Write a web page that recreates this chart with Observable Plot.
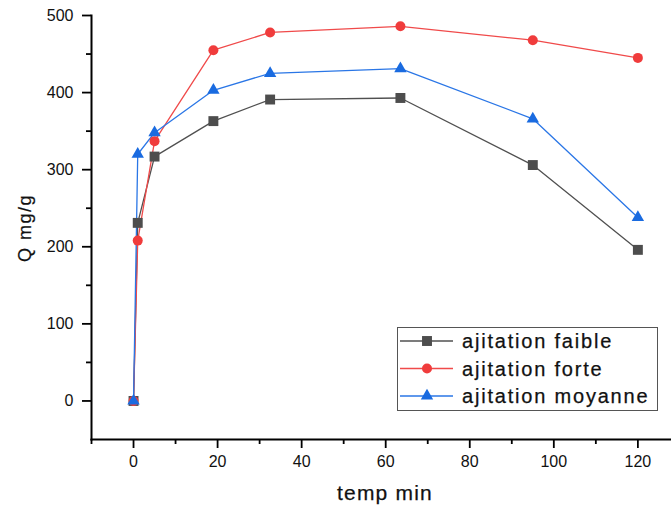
<!DOCTYPE html>
<html>
<head>
<meta charset="utf-8">
<script src="https://cdn.jsdelivr.net/npm/d3@7"></script>
<script src="https://cdn.jsdelivr.net/npm/@observablehq/plot@0.6"></script>
<style>
  html, body { margin: 0; padding: 0; background: #fff; }
  #wrap { position: relative; width: 671px; height: 508px; font-family: "Liberation Sans", Arial, sans-serif; }
  #legend { position: absolute; left: 397px; top: 327px; width: 259px; height: 82px; border: 1.5px solid #555; background: #fff; }
</style>
</head>
<body>
<div id="wrap"></div>
<script>
// Data
const times = [0, 1, 5, 19, 32.5, 63.5, 95, 120];
const faible = [0, 231, 317, 363, 391, 393, 306, 196];
const forte = [0, 208, 337, 455, 478, 486, 468, 445];
const moyanne = [0, 320, 348, 403, 425, 431, 366, 238];

const seriesNames = ["ajitation faible", "ajitation forte", "ajitation moyanne"];
const seriesValues = [faible, forte, moyanne];
const seriesColors = ["#4d4d4d", "#f03c3c", "#1a6be0"];
const lineColors = ["#505050", "#f04a4a", "#2a76e6"];
const seriesSymbols = ["square", "circle", "triangle"];
const seriesR = [5.6, 5, 4.6];

const xMajor = [0, 20, 40, 60, 80, 100, 120];
const xMinor = [-10, 10, 30, 50, 70, 90, 110];
const yMajor = [0, 100, 200, 300, 400, 500];
const yMinor = [50, 150, 250, 350, 450];

const marks = [];
seriesValues.forEach((vals, i) => {
  const data = times.map((t, j) => ({t, q: vals[j]}));
  marks.push(Plot.line(data, {x: "t", y: "q", stroke: lineColors[i], strokeWidth: 1.3}));
});
seriesValues.forEach((vals, i) => {
  const data = times.map((t, j) => ({t, q: vals[j]}));
  marks.push(Plot.dot(data, {x: "t", y: "q", symbol: () => seriesSymbols[i], fill: seriesColors[i], r: seriesR[i], stroke: "none"}));
});

const textStyle = {letterSpacing: "1.3px", stroke: "#111", strokeWidth: "0.1px"};

const chart = Plot.plot({
  width: 671,
  height: 508,
  marginLeft: 91,
  marginRight: 0,
  marginTop: 15,
  marginBottom: 69,
  style: {fontFamily: "'Liberation Sans', Arial, sans-serif", background: "#fff", overflow: "visible"},
  x: {domain: [-10, 128]},
  y: {domain: [-50, 500]},
  marks: [
    Plot.axisX({ticks: xMinor, tickSize: 5, text: null, label: null, strokeWidth: 1.8, stroke: "#000"}),
    Plot.axisX({ticks: xMajor, tickSize: 9, tickPadding: 7, fontSize: 16, label: null, strokeWidth: 1.8, stroke: "#000", fill: "#111", style: textStyle}),
    Plot.axisY({ticks: yMinor, tickSize: 5, text: null, label: null, strokeWidth: 1.8, stroke: "#000"}),
    Plot.axisY({ticks: yMajor, tickSize: 9, tickPadding: 9, fontSize: 16, label: null, strokeWidth: 1.8, stroke: "#000", fill: "#111", style: textStyle}),
    Plot.frame({anchor: "left", stroke: "#000", strokeWidth: 2}),
    Plot.frame({anchor: "bottom", stroke: "#000", strokeWidth: 2}),
    ...marks
  ]
});

const wrap = document.getElementById("wrap");
chart.style.position = "absolute";
chart.style.left = "0px";
chart.style.top = "0px";
wrap.appendChild(chart);

// Axis titles
const svgNS = "http://www.w3.org/2000/svg";
const xt = document.createElementNS(svgNS, "text");
xt.setAttribute("x", 385);
xt.setAttribute("y", 500);
xt.setAttribute("text-anchor", "middle");
xt.setAttribute("font-size", "21");
xt.setAttribute("letter-spacing", "1.2");
xt.setAttribute("fill", "#111");
xt.setAttribute("stroke", "#111");
xt.setAttribute("stroke-width", "0.25");
xt.setAttribute("font-family", "'Liberation Sans', Arial, sans-serif");
xt.textContent = "temp min";
chart.appendChild(xt);

const yt = document.createElementNS(svgNS, "text");
yt.setAttribute("transform", "translate(31,228) rotate(-90)");
yt.setAttribute("text-anchor", "middle");
yt.setAttribute("font-size", "18");
yt.setAttribute("letter-spacing", "1.5");
yt.setAttribute("fill", "#111");
yt.setAttribute("stroke", "#111");
yt.setAttribute("stroke-width", "0.2");
yt.setAttribute("font-family", "'Liberation Sans', Arial, sans-serif");
yt.textContent = "Q mg/g";
chart.appendChild(yt);

// Legend
const leg = document.createElement("div");
leg.id = "legend";
const ls = d3.create("svg").attr("width", 259).attr("height", 82);
const symMap = {square: d3.symbolSquare, circle: d3.symbolCircle, triangle: d3.symbolTriangle};
seriesNames.forEach((name, i) => {
  const cy = 13 + i * 27.5;
  const g = ls.append("g");
  g.append("line").attr("x1", 2).attr("x2", 55).attr("y1", cy).attr("y2", cy)
    .attr("stroke", lineColors[i]).attr("stroke-width", 1.3);
  g.append("path").attr("transform", `translate(29,${cy})`)
    .attr("d", d3.symbol(symMap[seriesSymbols[i]], Math.PI * seriesR[i] * seriesR[i])())
    .attr("fill", seriesColors[i]);
  g.append("text").attr("x", 64).attr("y", cy + 7).attr("font-size", 20)
    .attr("letter-spacing", "1.8").attr("fill", "#111")
    .attr("stroke", "#111").attr("stroke-width", 0.25)
    .attr("font-family", "'Liberation Sans', Arial, sans-serif").text(name);
});
leg.appendChild(ls.node());
wrap.appendChild(leg);
</script>
</body>
</html>
